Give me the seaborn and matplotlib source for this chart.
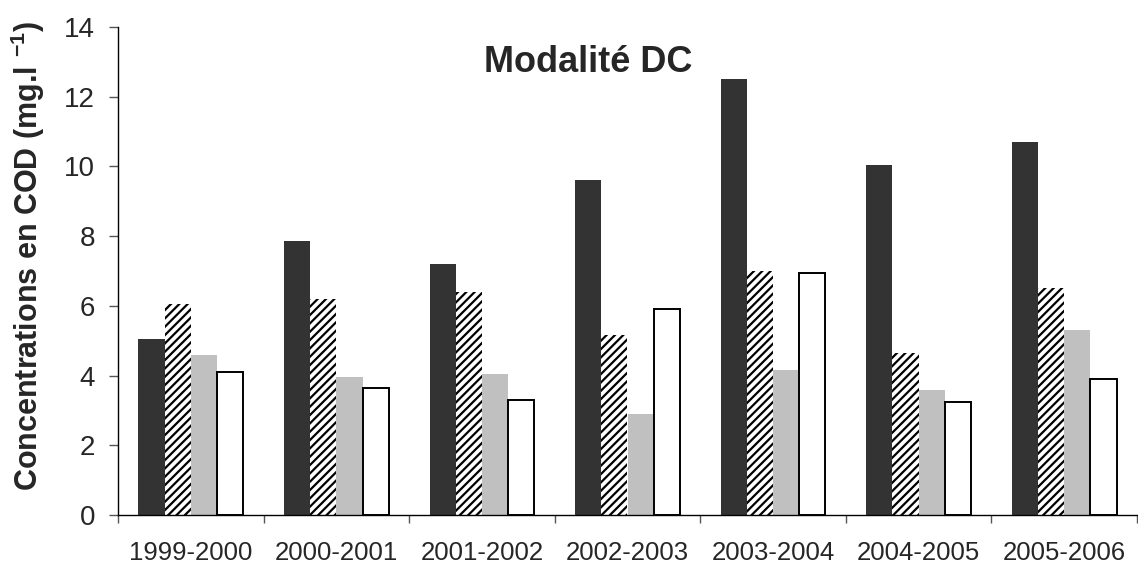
import matplotlib
matplotlib.use("Agg")
import matplotlib.pyplot as plt
import seaborn as sns
import pandas as pd
import numpy as np
from matplotlib.ticker import FixedLocator, NullFormatter

years = ["1999-2000", "2000-2001", "2001-2002", "2002-2003", "2003-2004", "2004-2005", "2005-2006"]
series_names = ["S1", "S2", "S3", "S4"]
s1 = [5.05, 7.85, 7.2, 9.6, 12.5, 10.05, 10.7]
s2 = [6.05, 6.2, 6.4, 5.15, 7.0, 4.65, 6.5]
s3 = [4.6, 3.95, 4.05, 2.9, 4.15, 3.6, 5.3]
s4 = [4.1, 3.65, 3.3, 5.9, 6.95, 3.25, 3.9]
title = "Modalité DC"
ylabel = r"Concentrations en COD (mg.l $^{\mathbf{-1}}$)"

sns.set_style("white")
plt.rcParams["font.family"] = ["Liberation Sans", "DejaVu Sans"]
plt.rcParams["mathtext.fontset"] = "custom"
plt.rcParams["mathtext.rm"] = "Liberation Sans"
plt.rcParams["mathtext.bf"] = "Liberation Sans:bold"
plt.rcParams["hatch.linewidth"] = 1.6

rows = []
for name, vals in zip(series_names, [s1, s2, s3, s4]):
    for y, v in zip(years, vals):
        rows.append({"year": y, "serie": name, "val": v})
df = pd.DataFrame(rows)

fig = plt.figure(figsize=(11.38, 5.65), dpi=100)
ax = fig.add_axes([118/1138, 1-515/565, (1137-118)/1138, (515-27)/565])

palette = ["#333333", "white", "#c0c0c0", "white"]
sns.barplot(data=df, x="year", y="val", hue="serie", palette=palette, width=0.72,
            legend=False, ax=ax, saturation=1)

for i, cont in enumerate(ax.containers):
    for p in cont:
        if i == 0:
            p.set_edgecolor("#333333"); p.set_linewidth(0)
        elif i == 1:
            p.set_facecolor("white"); p.set_edgecolor("black")
            p.set_hatch("////"); p.set_linewidth(0)
        elif i == 2:
            p.set_edgecolor("#c0c0c0"); p.set_linewidth(0)
        else:
            p.set_facecolor("white"); p.set_edgecolor("black"); p.set_linewidth(1.4)

ax.set_xlim(-0.5, 6.5)
ax.set_ylim(0, 14)
ax.set_yticks(np.arange(0, 15, 2))
ax.tick_params(axis="y", which="major", direction="out", length=6.5, width=1, color="#555555",
               labelsize=20, pad=10, left=True)
ax.tick_params(axis="x", which="major", length=0, labelsize=18.5, pad=19)
ax.xaxis.set_minor_locator(FixedLocator(np.arange(-0.5, 7, 1)))
ax.xaxis.set_minor_formatter(NullFormatter())
ax.tick_params(axis="x", which="minor", direction="out", length=5.5, width=1, color="#555555", bottom=True)

for s in ["top", "right"]:
    ax.spines[s].set_visible(False)
for s in ["left", "bottom"]:
    ax.spines[s].set_color("black")
    ax.spines[s].set_linewidth(1)

ax.set_xlabel("")
ax.set_ylabel(ylabel, fontsize=22, fontweight="bold", ha="center", va="center")
ax.yaxis.set_label_coords(-0.0883, 0.53)
ax.text(2.73, 12.71, title, fontsize=26, fontweight="bold", ha="center", va="baseline")

fig.savefig("out.png", dpi=100)
